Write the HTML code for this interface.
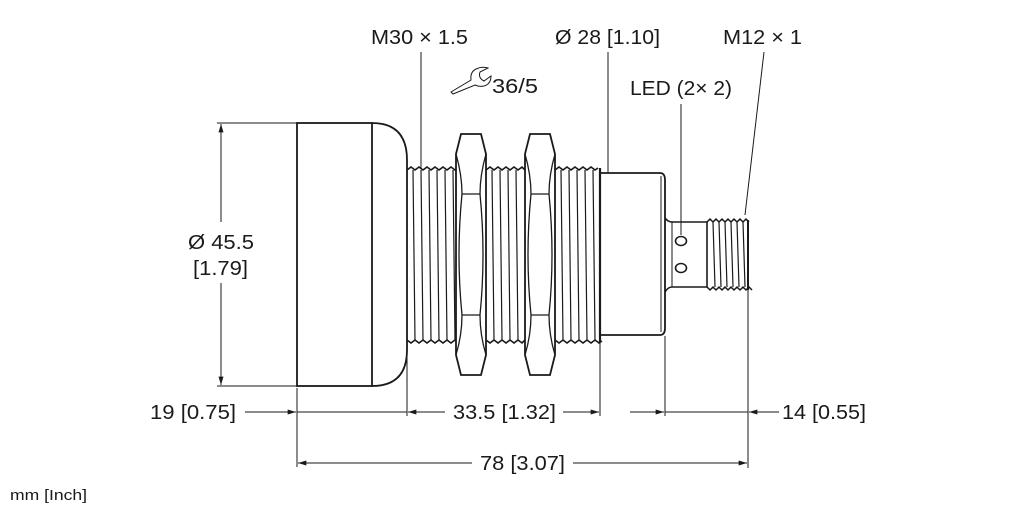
<!DOCTYPE html>
<html><head><meta charset="utf-8"><style>
html,body{margin:0;padding:0;background:#fff;}
svg{display:block}
text{font-family:"Liberation Sans",sans-serif;fill:#1a1a1a;}
</style></head><body>
<svg width="1022" height="511" viewBox="0 0 1022 511" xmlns="http://www.w3.org/2000/svg">
<defs>
<marker id="a" viewBox="0 0 10 6" refX="10" refY="3" markerWidth="14" markerHeight="5" orient="auto-start-reverse" markerUnits="userSpaceOnUse"><path d="M0,0L10,3L0,6z" fill="#1a1a1a"/></marker>
</defs>
<g stroke="#1a1a1a" fill="none">
<rect x="297" y="123" width="75" height="263" stroke-width="1.8"/>
<path d="M372,123 Q407,123 407,160 L407,350 Q407,386 372,386" stroke-width="1.8"/>
<g stroke-width="1.6">
<path d="M407,170 l4,-3 4,3 4,-3 4,3 4,-3 4,3 4,-3 4,3 4,-3 4,3 4,-3 4,3 3,-2"/>
<path d="M486,170 l4,-3 4,3 4,-3 4,3 4,-3 4,3 4,-3 4,3 4,-3 3,3"/>
<path d="M555,170 l4,-3 4,3 4,-3 4,3 4,-3 4,3 4,-3 4,3 4,-3 4,3 3,-2"/>
<path d="M407,340 l4,3 4,-3 4,3 4,-3 4,3 4,-3 4,3 4,-3 4,3 4,-3 4,3 4,-3 3,2"/>
<path d="M486,340 l4,3 4,-3 4,3 4,-3 4,3 4,-3 4,3 4,-3 4,3 3,-3"/>
<path d="M555,340 l4,3 4,-3 4,3 4,-3 4,3 4,-3 4,3 4,-3 4,3 4,-3 4,3 3,-2"/>
</g>
<g stroke-width="1.2">
<path d="M413,170L415,340M421,170L423,340M429,170L431,340M437,170L439,340M445,170L447,340M453,170L455,340"/>
<path d="M492,170L494,340M500,170L502,340M508,170L510,340M516,170L518,340"/>
<path d="M561,170L563,340M569,170L571,340M577,170L579,340M585,170L587,340M593,170L595,340"/>
</g>
<line x1="600" y1="168" x2="600" y2="342" stroke-width="2.2"/>
<g stroke-width="1.8" fill="#fff">
<path d="M461,134 L481,134 L486,154 L486,355 L481,375 L461,375 L456,355 L456,154 Z"/>
<path d="M530,134 L550,134 L555,154 L555,355 L550,375 L530,375 L525,355 L525,154 Z"/>
</g>
<g stroke-width="1.3">
<path d="M456,154 Q462,175 462,194 Q456,255 462,315 Q462,335 456,355"/>
<path d="M486,154 Q480,175 480,194 Q486,255 480,315 Q480,335 486,355"/>
<line x1="462" y1="194" x2="480" y2="194"/><line x1="462" y1="315" x2="480" y2="315"/>
<path d="M525,154 Q531,175 531,194 Q525,255 531,315 Q531,335 525,355"/>
<path d="M555,154 Q549,175 549,194 Q555,255 549,315 Q549,335 555,355"/>
<line x1="531" y1="194" x2="549" y2="194"/><line x1="531" y1="315" x2="549" y2="315"/>
</g>
<path d="M600,173 L660,173 Q665,173 665,180 L665,328 Q665,335 660,335 L600,335" stroke-width="1.8"/>
<line x1="661" y1="176" x2="661" y2="332" stroke-width="1"/>
<path d="M665,218 Q668,222 672,222 L707,222 M665,292 Q668,287 672,287 L707,287" stroke-width="1.6"/>
<line x1="672" y1="222" x2="672" y2="287" stroke-width="1"/>
<ellipse cx="681" cy="241" rx="5.5" ry="4.5" stroke-width="1.6"/>
<ellipse cx="681" cy="268" rx="5.5" ry="4.5" stroke-width="1.6"/>
<path d="M707,222 L707,287" stroke-width="1.6"/>
<path d="M707,222 l3,-3 3,3 3,-3 3,3 3,-3 3,3 3,-3 3,3 3,-3 3,3 3,-3 3,3 3,-3 3,3" stroke-width="1.5"/>
<path d="M707,287 l3,3 3,-3 3,3 3,-3 3,3 3,-3 3,3 3,-3 3,3 3,-3 3,3 3,-3 3,3 3,-3 3,3" stroke-width="1.5"/>
<path d="M713,222L715,287M719,222L721,287M725,222L727,287M731,222L733,287M737,222L739,287M743,222L745,287" stroke-width="1.2"/>
<line x1="748" y1="220" x2="748" y2="290" stroke-width="2"/>
<g stroke-width="1">
<line x1="217" y1="123" x2="297" y2="123"/><line x1="217" y1="386" x2="297" y2="386"/>
<line x1="221" y1="222" x2="221" y2="124" marker-end="url(#a)"/>
<line x1="221" y1="283" x2="221" y2="385" marker-end="url(#a)"/>
<line x1="421" y1="52" x2="421" y2="169"/>
<line x1="608" y1="52" x2="608" y2="173"/>
<line x1="681" y1="104" x2="681" y2="235"/>
<line x1="764" y1="52" x2="745" y2="215"/>
<path d="M451,92 L471,80 Q470,72 476,69 Q482,66 488,68 L480,72 Q478,78 484,81 L491,76 Q491,84 484,86 Q479,87 475,85 L453,94 Z" stroke-width="1"/>
<line x1="297" y1="388" x2="297" y2="467"/>
<line x1="407" y1="340" x2="407" y2="416"/>
<line x1="600" y1="342" x2="600" y2="416"/>
<line x1="665" y1="336" x2="665" y2="416"/>
<line x1="748" y1="290" x2="748" y2="468"/>
<line x1="245" y1="412" x2="296" y2="412" marker-end="url(#a)"/>
<line x1="297" y1="412" x2="407" y2="412"/>
<line x1="445" y1="412" x2="408" y2="412" marker-end="url(#a)"/>
<line x1="563" y1="412" x2="599" y2="412" marker-end="url(#a)"/>
<line x1="630" y1="412" x2="664" y2="412" marker-end="url(#a)"/>
<line x1="665" y1="412" x2="748" y2="412"/>
<line x1="779" y1="412" x2="749" y2="412" marker-end="url(#a)"/>
<line x1="472" y1="463" x2="298" y2="463" marker-end="url(#a)"/>
<line x1="573" y1="463" x2="747" y2="463" marker-end="url(#a)"/>
</g>
</g>
<g font-size="20">
<text x="371" y="44" textLength="97" lengthAdjust="spacingAndGlyphs">M30 × 1.5</text>
<text x="555" y="44" textLength="105" lengthAdjust="spacingAndGlyphs">Ø 28 [1.10]</text>
<text x="723" y="44" textLength="79" lengthAdjust="spacingAndGlyphs">M12 × 1</text>
<text x="492" y="93" textLength="46" lengthAdjust="spacingAndGlyphs">36/5</text>
<text x="630" y="95" textLength="102" lengthAdjust="spacingAndGlyphs">LED (2× 2)</text>
<text x="188" y="249" textLength="66" lengthAdjust="spacingAndGlyphs">Ø 45.5</text>
<text x="193" y="275" textLength="55" lengthAdjust="spacingAndGlyphs">[1.79]</text>
<text x="150" y="419" textLength="86" lengthAdjust="spacingAndGlyphs">19 [0.75]</text>
<text x="453" y="419" textLength="103" lengthAdjust="spacingAndGlyphs">33.5 [1.32]</text>
<text x="782" y="419" textLength="84" lengthAdjust="spacingAndGlyphs">14 [0.55]</text>
<text x="480" y="470" textLength="85" lengthAdjust="spacingAndGlyphs">78 [3.07]</text>
</g>
<text x="10" y="500" font-size="15" textLength="77" lengthAdjust="spacingAndGlyphs">mm [Inch]</text>
</svg>
</body></html>
